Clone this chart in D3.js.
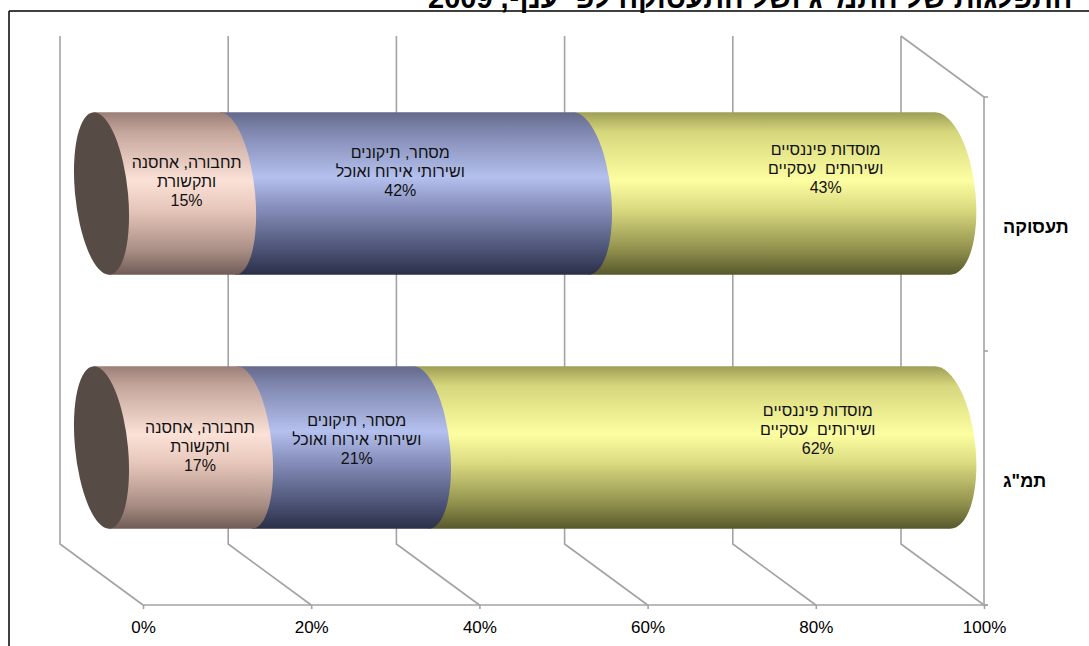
<!DOCTYPE html>
<html lang="he">
<head>
<meta charset="utf-8">
<script src="https://cdn.jsdelivr.net/npm/d3@7"></script>
<style>
  body { margin: 0; background: #fff; }
  svg { display: block; }
  text { font-family: "Liberation Sans", Arial, sans-serif; }
</style>
</head>
<body>
<svg id="chart" width="1089" height="646"></svg>
<script>
// ---- data ----
const chartTitle = "התפלגות של התמ\"ג ושל התעסוקה לפי ענף, 2009";
const categories = ["תעסוקה", "תמ\"ג"];
const seriesLabels = [
  ["תחבורה, אחסנה", "ותקשורת"],
  ["מסחר, תיקונים", "ושירותי אירוח ואוכל"],
  ["מוסדות פיננסיים", "ושירותים  עסקיים"]
];
const employmentShares = [15, 42, 43];
const gdpShares = [17, 21, 62];
const tickValues = [0, 20, 40, 60, 80, 100];

// label nudges (px) from each segment centre: [dx, dy]
const labelNudges = [
  [[22, -7], [-4, -17], [64, -20]],
  [[27, 4.5], [24, -2.5], [136, -12.5]]
];

// ---- colours (vertical shading of each cylinder) ----
const shades = [
  [["0", "#9a7e76"], ["0.12", "#c4a59b"], ["0.42", "#fbe1d7"], ["0.6", "#e7c6ba"], ["0.85", "#a98e85"], ["1", "#6f5c55"]],
  [["0", "#656a8c"], ["0.12", "#8088b0"], ["0.4", "#b4c0ee"], ["0.58", "#8890bd"], ["0.85", "#4b5274"], ["1", "#2a2f47"]],
  [["0", "#9e9e56"], ["0.12", "#d6d67c"], ["0.42", "#fdfda2"], ["0.6", "#d9d97f"], ["0.85", "#8f8f4c"], ["1", "#56582c"]]
];
const capColour = "#574b46";
const gridColour = "#a3a3a3";

const rows = [employmentShares, gdpShares];

const svg = d3.select("#chart");
const defs = svg.append("defs");
shades.forEach((stops, i) => {
  const g = defs.append("linearGradient")
    .attr("id", "shade" + i)
    .attr("x1", 0).attr("y1", 0).attr("x2", 0).attr("y2", 1);
  stops.forEach(([o, c]) => g.append("stop").attr("offset", o).attr("stop-color", c));
});

// ---- frame and title ----
svg.append("line").attr("x1", 9).attr("y1", 11).attr("x2", 1089).attr("y2", 11)
  .attr("stroke", "#000").attr("stroke-width", 1.5);
svg.append("line").attr("x1", 9).attr("y1", 11).attr("x2", 9).attr("y2", 646)
  .attr("stroke", "#000").attr("stroke-width", 1.5);
svg.append("text")
  .attr("x", 428).attr("y", 8)
  .attr("direction", "rtl")
  .attr("text-anchor", "end")
  .attr("font-weight", "bold")
  .attr("font-size", 29)
  .text(chartTitle);

// ---- 3D frame geometry ----
const front = { left: 143, right: 984, top: 97, bottom: 605 };
const depth = { dx: -83, dy: -61 };

const x = d3.scaleLinear().domain([0, 100]).range([front.left, front.right]);
const y = d3.scaleBand().domain(categories).range([front.top, front.bottom]);

// back wall gridlines and floor lines
const grid = svg.append("g").attr("stroke", gridColour).attr("stroke-width", 1.6).attr("fill", "none");
tickValues.forEach(t => {
  const bx = x(t) + depth.dx;
  grid.append("path")
    .attr("d", `M${bx},${front.top + depth.dy}V${front.bottom + depth.dy}L${x(t)},${front.bottom}`);
});
// right side wall edge
grid.append("path")
  .attr("d", `M${x(100) + depth.dx},${front.top + depth.dy}L${x(100)},${front.top}V${front.bottom}`);
// category boundary ticks on the right edge
const bounds = categories.map(c => y(c)).concat([front.bottom]);
bounds.forEach(b => {
  grid.append("line").attr("x1", x(100)).attr("x2", x(100) + 4).attr("y1", b).attr("y2", b);
});

// bottom value axis
const xAxis = svg.append("g")
  .attr("transform", `translate(0,${front.bottom})`)
  .call(d3.axisBottom(x).tickValues(tickValues).tickFormat(d => d + "%").tickSize(4).tickSizeOuter(0));
xAxis.select(".domain").attr("stroke", gridColour).attr("stroke-width", 1.6)
  .attr("d", `M${front.left},0H${front.right + 4}`);
xAxis.selectAll(".tick line").attr("stroke", gridColour).attr("stroke-width", 1.6);
xAxis.selectAll(".tick text")
  .attr("y", 28).attr("dy", 0)
  .attr("font-size", 17).attr("fill", "#000")
  .attr("font-family", "'Liberation Sans', Arial, sans-serif");

// category labels
svg.append("g").selectAll("text").data(categories).join("text")
  .attr("x", 1003)
  .attr("y", c => y(c) + y.bandwidth() / 2 + 9)
  .attr("font-size", 18)
  .attr("font-weight", "bold")
  .text(c => c);

// ---- cylinders ----
const barH = y.bandwidth() * 0.64;
const ry = barH / 2;
const xBar = v => x(v) + depth.dx / 2;
const rx = d3.scaleLinear().domain([0, 100]).range([26.5, 33]);
const skew = Math.atan(15 / barH) * 180 / Math.PI;

rows.forEach((vals, ci) => {
  const cy = y(categories[ci]) + y.bandwidth() / 2 + depth.dy / 2;
  const top = cy - ry, bot = cy + ry;
  let acc = 0;
  const segs = vals.map((v, si) => {
    const s = { si, v, start: acc, end: acc + v };
    acc += v;
    return s;
  });
  const g = svg.append("g")
    .attr("transform", `translate(0,${cy}) skewX(${skew}) translate(0,${-cy})`);

  // draw right-most first so each left piece overlaps the bulge of the next
  segs.slice().reverse().forEach(s => {
    const x0 = xBar(s.start), x1 = xBar(s.end);
    g.append("path")
      .attr("d", `M${x0},${top}L${x1},${top}A${rx(s.end)},${ry} 0 0 1 ${x1},${bot}L${x0},${bot}Z`)
      .attr("fill", `url(#shade${s.si})`);
  });
  // visible end face at 0%
  g.append("ellipse")
    .attr("cx", xBar(0)).attr("cy", cy)
    .attr("rx", rx(0)).attr("ry", ry)
    .attr("fill", capColour);

  // data labels
  segs.forEach(s => {
    const [ndx, ndy] = labelNudges[ci][s.si];
    const lx = xBar((s.start + s.end) / 2) + ndx;
    const ly = cy + ndy;
    const t = svg.append("text")
      .attr("text-anchor", "middle")
      .attr("font-size", 16)
      .attr("fill", "#111")
      .style("white-space", "pre");
    const lines = seriesLabels[s.si].concat([s.v + "%"]);
    lines.forEach((ln, k) => {
      t.append("tspan").attr("x", lx).attr("y", ly + (k - 1) * 19).text(ln);
    });
  });
});
</script>
</body>
</html>
